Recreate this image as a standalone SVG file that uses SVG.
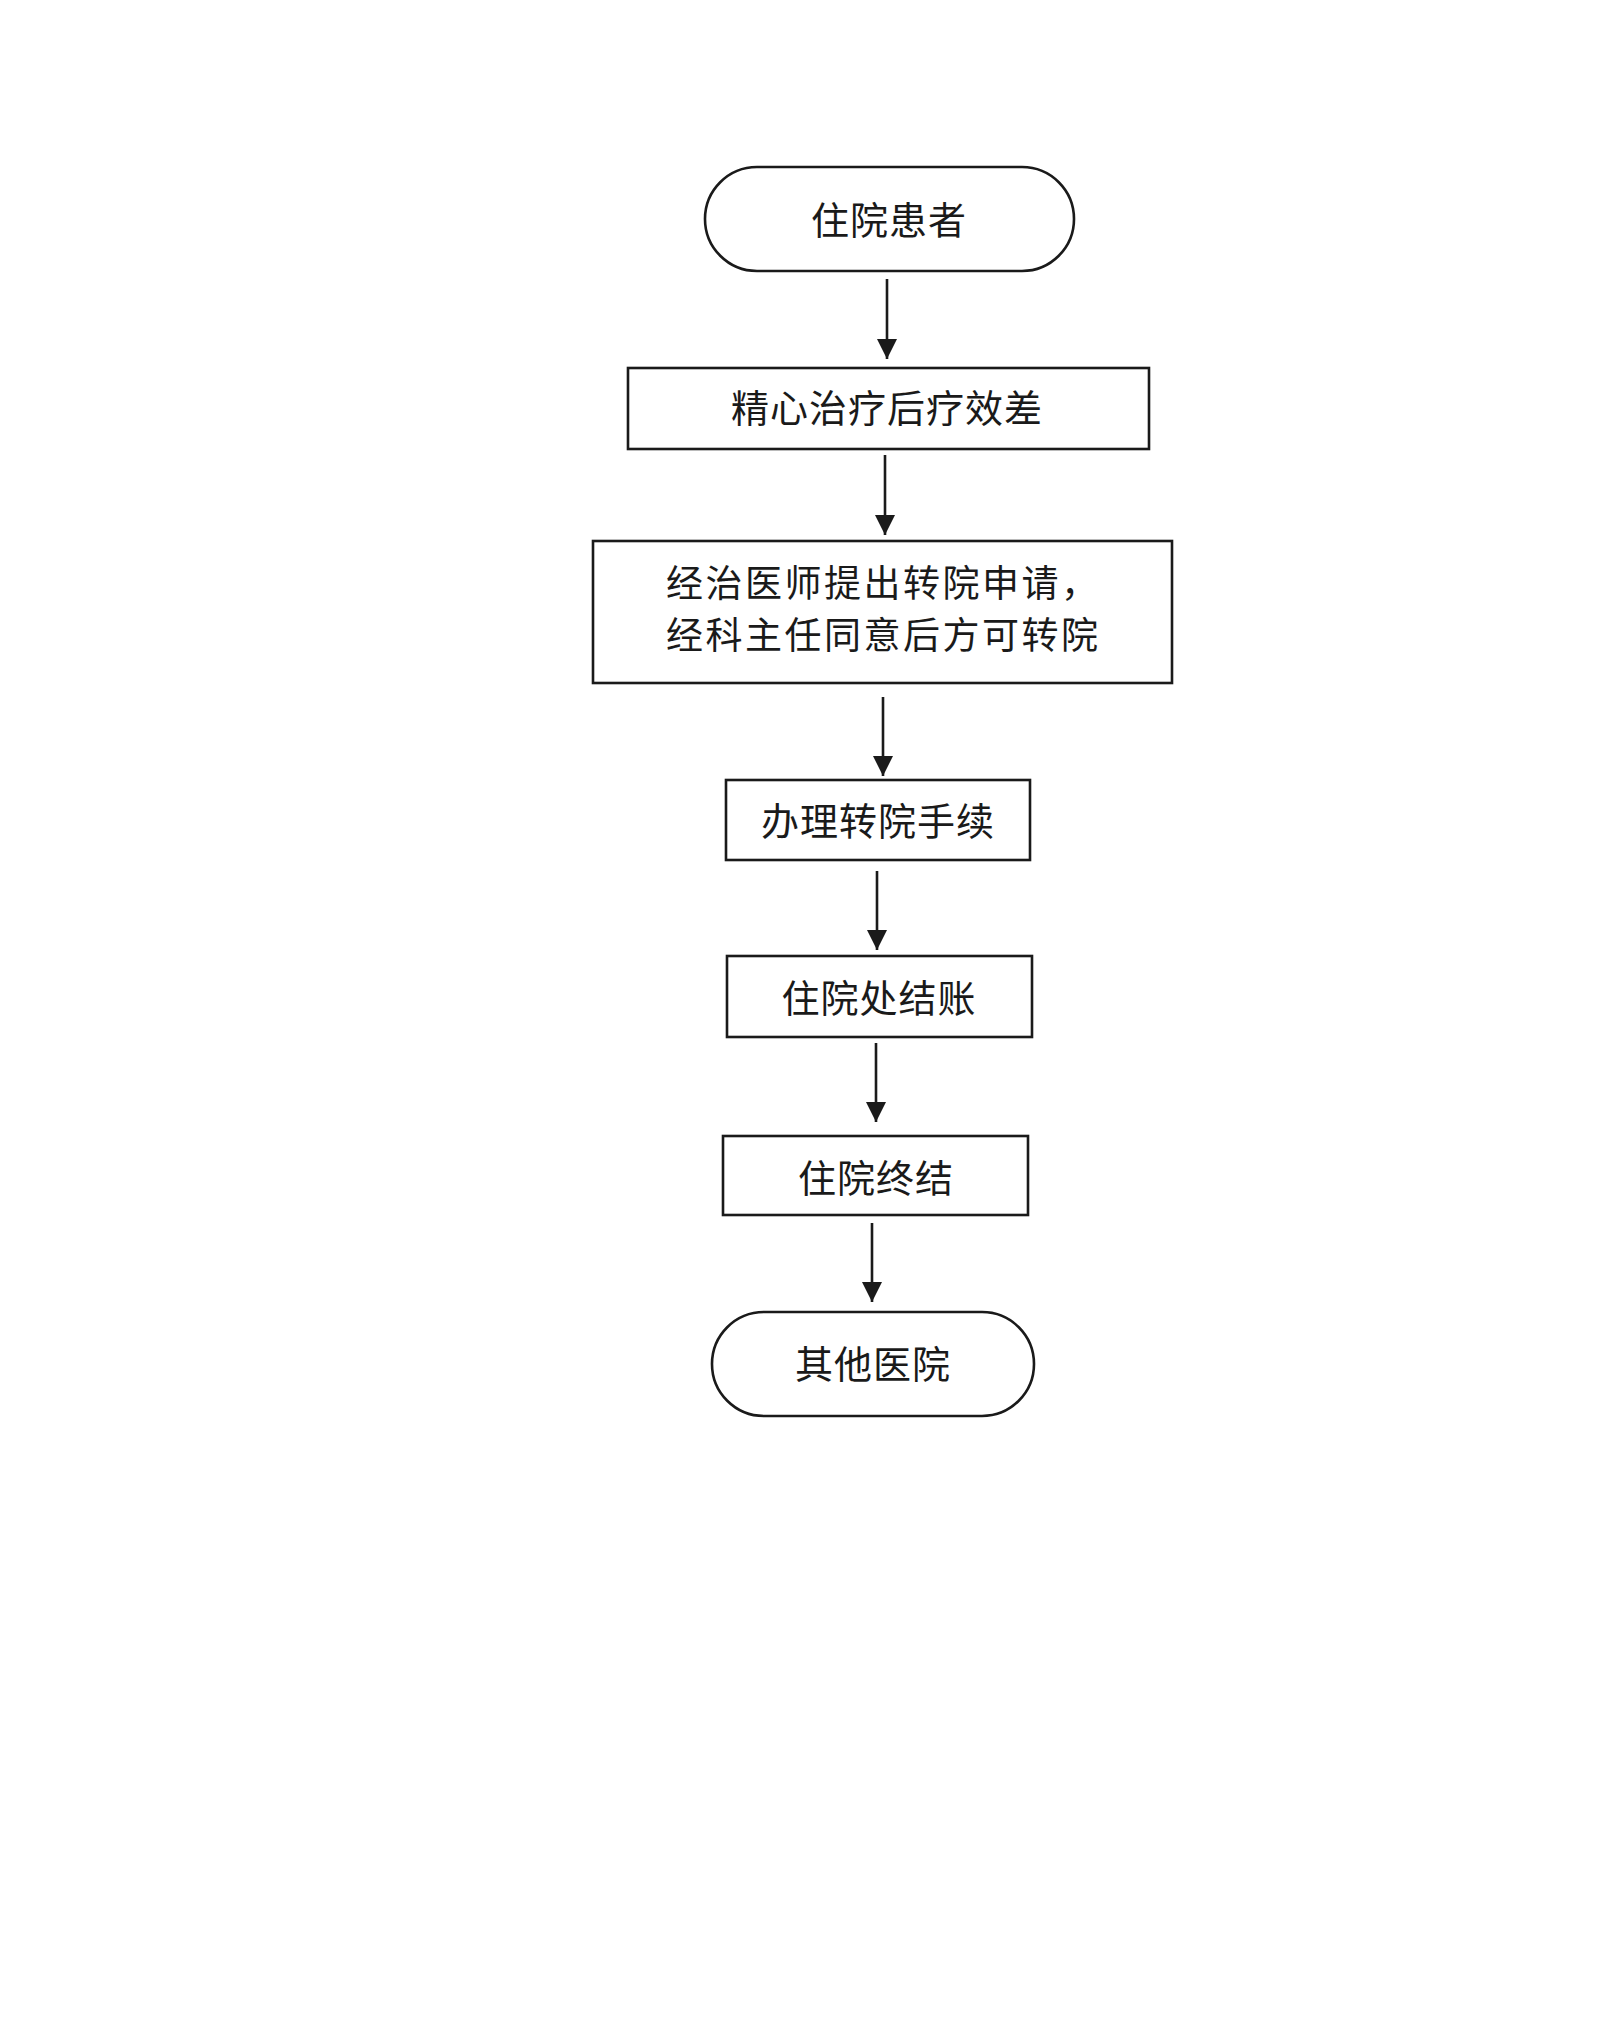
<svg xmlns="http://www.w3.org/2000/svg" width="1603" height="2030" viewBox="0 0 1603 2030">
<defs>
<style>
.n{fill:#fff;stroke:#1a1a1a;stroke-width:2.6}
.t{font-family:"Noto Sans CJK SC","Noto Sans",sans-serif;font-size:38px;fill:#1a1a1a;text-anchor:middle;letter-spacing:1px}
.t3{font-family:"Noto Sans CJK SC","Noto Sans",sans-serif;font-size:37px;fill:#1a1a1a;letter-spacing:2.5px}
.c{stroke:#1a1a1a;stroke-width:2.6;fill:none;marker-end:url(#ah)}
</style>
<marker id="ah" viewBox="0 0 20 20" refX="20" refY="10" markerWidth="20" markerHeight="20" markerUnits="userSpaceOnUse" orient="auto">
<path d="M0,0 L20,10 L0,20 Z" fill="#1a1a1a"/>
</marker>
</defs>
<rect width="1603" height="2030" fill="#fff"/>
<g id="connectors">
<line class="c" x1="887" y1="279" x2="887" y2="359"/>
<line class="c" x1="885" y1="455" x2="885" y2="535"/>
<line class="c" x1="883" y1="697" x2="883" y2="776"/>
<line class="c" x1="877" y1="871" x2="877" y2="950"/>
<line class="c" x1="876" y1="1043" x2="876" y2="1122"/>
<line class="c" x1="872" y1="1223" x2="872" y2="1302"/>
</g>
<g id="start">
<rect class="n" x="705" y="167" width="369" height="104" rx="52" ry="52"/>
<text class="t" x="889" y="234">住院患者</text>
</g>
<g id="poor">
<rect class="n" x="628" y="368" width="521" height="81"/>
<text class="t" x="887" y="422">精心治疗后疗效差</text>
</g>
<g id="apply">
<rect class="n" x="593" y="541" width="579" height="142"/>
<text class="t3" x="666" y="597">经治医师提出转院申请，</text>
<text class="t3" x="666" y="649">经科主任同意后方可转院</text>
</g>
<g id="procedure">
<rect class="n" x="726" y="780" width="304" height="80"/>
<text class="t" x="878" y="835">办理转院手续</text>
</g>
<g id="checkout">
<rect class="n" x="727" y="956" width="305" height="81"/>
<text class="t" x="879" y="1012">住院处结账</text>
</g>
<g id="end-stay">
<rect class="n" x="723" y="1136" width="305" height="79"/>
<text class="t" x="876" y="1192">住院终结</text>
</g>
<g id="other">
<rect class="n" x="712" y="1312" width="322" height="104" rx="52" ry="52"/>
<text class="t" x="873" y="1378">其他医院</text>
</g>
</svg>
